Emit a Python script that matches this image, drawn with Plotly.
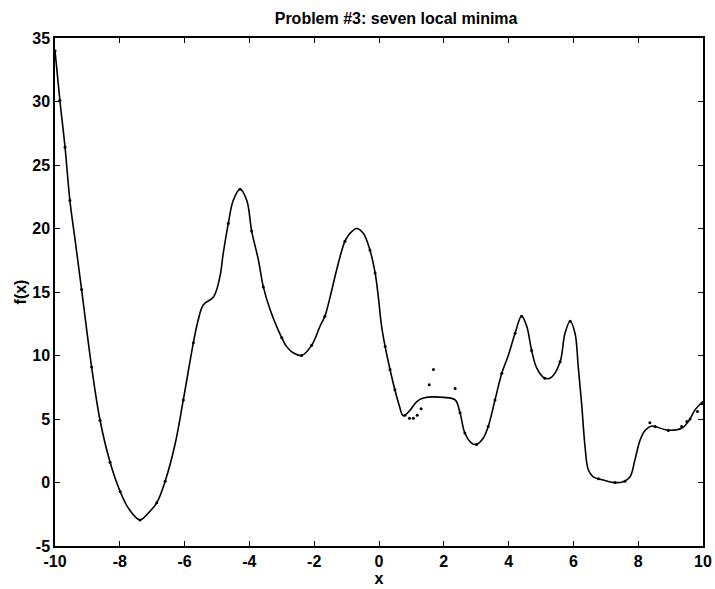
import plotly.graph_objects as go

# curve
curve_x = [-10.0, -9.85, -9.69, -9.54, -9.38, -9.18, -8.87, -8.61, -8.30, -7.99, -7.74,
           -7.38, -7.12, -6.86, -6.60, -6.30, -6.04, -5.73, -5.58, -5.42, -5.11, -4.91,
           -4.81, -4.65, -4.50, -4.29, -4.08, -3.93, -3.72, -3.57, -3.36, -3.11, -2.85,
           -2.64, -2.39, -2.08, -1.82, -1.67, -1.51, -1.36, -1.20, -1.05, -0.90, -0.69,
           -0.48, -0.28, -0.12, -0.02, 0.08, 0.19, 0.34, 0.49, 0.62, 0.75, 0.96, 1.16,
           1.37, 1.99, 2.35, 2.50, 2.65, 2.86, 3.01, 3.22, 3.37, 3.58, 3.79, 3.99, 4.20,
           4.40, 4.56, 4.71, 4.87, 5.12, 5.33, 5.59, 5.74, 5.90, 6.05, 6.15, 6.26, 6.36,
           6.46, 6.61, 6.92, 7.23, 7.54, 7.75, 7.90, 8.06, 8.21, 8.42, 8.88, 9.34, 9.55,
           9.75, 10.0]
curve_y = [34.0, 30.1, 26.4, 22.2, 19.1, 15.2, 9.1, 4.9, 1.6, -0.7, -2.0,
           -2.95, -2.4, -1.6, 0.1, 2.95, 6.5, 11.0, 12.8, 14.0, 14.6, 16.2,
           18.0, 20.4, 22.2, 23.1, 22.2, 19.8, 17.5, 15.4, 13.6, 12.0, 10.7,
           10.2, 10.0, 10.8, 12.3, 13.1, 14.6, 16.2, 17.8, 19.0, 19.6, 20.0,
           19.6, 18.3, 16.5, 14.6, 12.3, 10.7, 8.9, 7.3, 6.1, 5.25, 5.7, 6.35,
           6.65, 6.7, 6.5, 5.5, 3.9, 3.1, 3.0, 3.5, 4.4, 6.5, 8.6, 10.0, 11.75,
           13.1, 12.3, 10.4, 9.0, 8.2, 8.3, 9.5, 11.75, 12.7, 11.75, 9.1, 6.0, 2.8,
           1.0, 0.45, 0.2, 0.0, 0.06, 0.45, 1.8, 3.35, 4.1, 4.45, 4.13, 4.27, 4.8,
           5.7, 6.4]

# sample points (dots)
dot_x = [-10.0, -9.85, -9.69, -9.54, -9.18, -8.87, -8.61, -8.30, -7.99, -7.38, -6.86,
         -6.60, -6.04, -5.73, -4.65, -4.29, -3.93, -3.57, -3.00, -2.39, -2.08, -1.67,
         -1.05, -0.28, -0.12, 0.19, 0.34, 0.49, 0.80, 0.94, 1.06, 1.18, 1.30, 1.55,
         1.68, 2.35, 2.50, 2.65, 3.01, 3.37, 3.58, 3.79, 4.20, 4.40, 4.71, 5.12, 5.59,
         5.90, 6.77, 7.28, 7.59, 8.36, 8.52, 8.93, 9.34, 9.50, 9.60, 9.83, 9.96]
dot_y = [34.0, 30.1, 26.4, 22.2, 15.2, 9.1, 4.9, 1.6, -0.7, -2.95, -1.6,
         0.1, 6.5, 11.0, 20.4, 23.1, 19.8, 15.4, 11.4, 10.0, 10.8, 13.1,
         19.0, 18.3, 16.5, 10.7, 8.9, 7.3, 5.3, 5.05, 5.05, 5.3, 5.8, 7.7,
         8.9, 7.4, 5.5, 3.9, 3.0, 4.4, 6.5, 8.6, 11.75, 13.1, 10.4, 8.2, 9.5,
         12.7, 0.3, 0.0, 0.1, 4.7, 4.4, 4.1, 4.4, 4.8, 5.0, 5.6, 6.2]

x_ticks = [-10, -8, -6, -4, -2, 0, 2, 4, 6, 8, 10]
y_ticks = [-5, 0, 5, 10, 15, 20, 25, 30, 35]

font = dict(family="Liberation Sans, Arial, sans-serif", size=16, color="black", weight="bold")

fig = go.Figure()
fig.add_trace(go.Scatter(
    x=curve_x, y=curve_y, mode="lines",
    line=dict(color="black", width=1.6, shape="spline", smoothing=1.0),
    hoverinfo="skip",
))
fig.add_trace(go.Scatter(
    x=dot_x, y=dot_y, mode="markers",
    marker=dict(color="black", size=3),
))

axis = dict(
    showgrid=False, zeroline=False, showline=True, linecolor="black", linewidth=1.5,
    mirror="ticks", ticks="inside", ticklen=5, tickwidth=1.2, tickcolor="black",
    tickfont=font, automargin=False,
)

fig.update_layout(
    width=715, height=589,
    margin=dict(l=55, r=12, t=38, b=43),
    paper_bgcolor="white", plot_bgcolor="white",
    showlegend=False,
    title=dict(text="Problem #3: seven local minima", x=0.554, xanchor="center",
               y=0.968, yanchor="middle",
               font=dict(family="Liberation Sans, Arial, sans-serif", size=16,
                         color="black", weight="bold")),
    xaxis=dict(axis, range=[-10, 10], tickvals=x_ticks,
               ticktext=[str(v) for v in x_ticks],
               title=dict(text="x", font=font, standoff=0)),
    yaxis=dict(axis, range=[-5, 35], tickvals=y_ticks,
               ticktext=[str(v) for v in y_ticks],
               title=dict(text="f(x)", font=font, standoff=2)),
)

# the page's default body margin would shift the figure by 8px
fig.write_html("out.html", config={"displayModeBar": False},
               post_script="document.body.style.margin='0';")
